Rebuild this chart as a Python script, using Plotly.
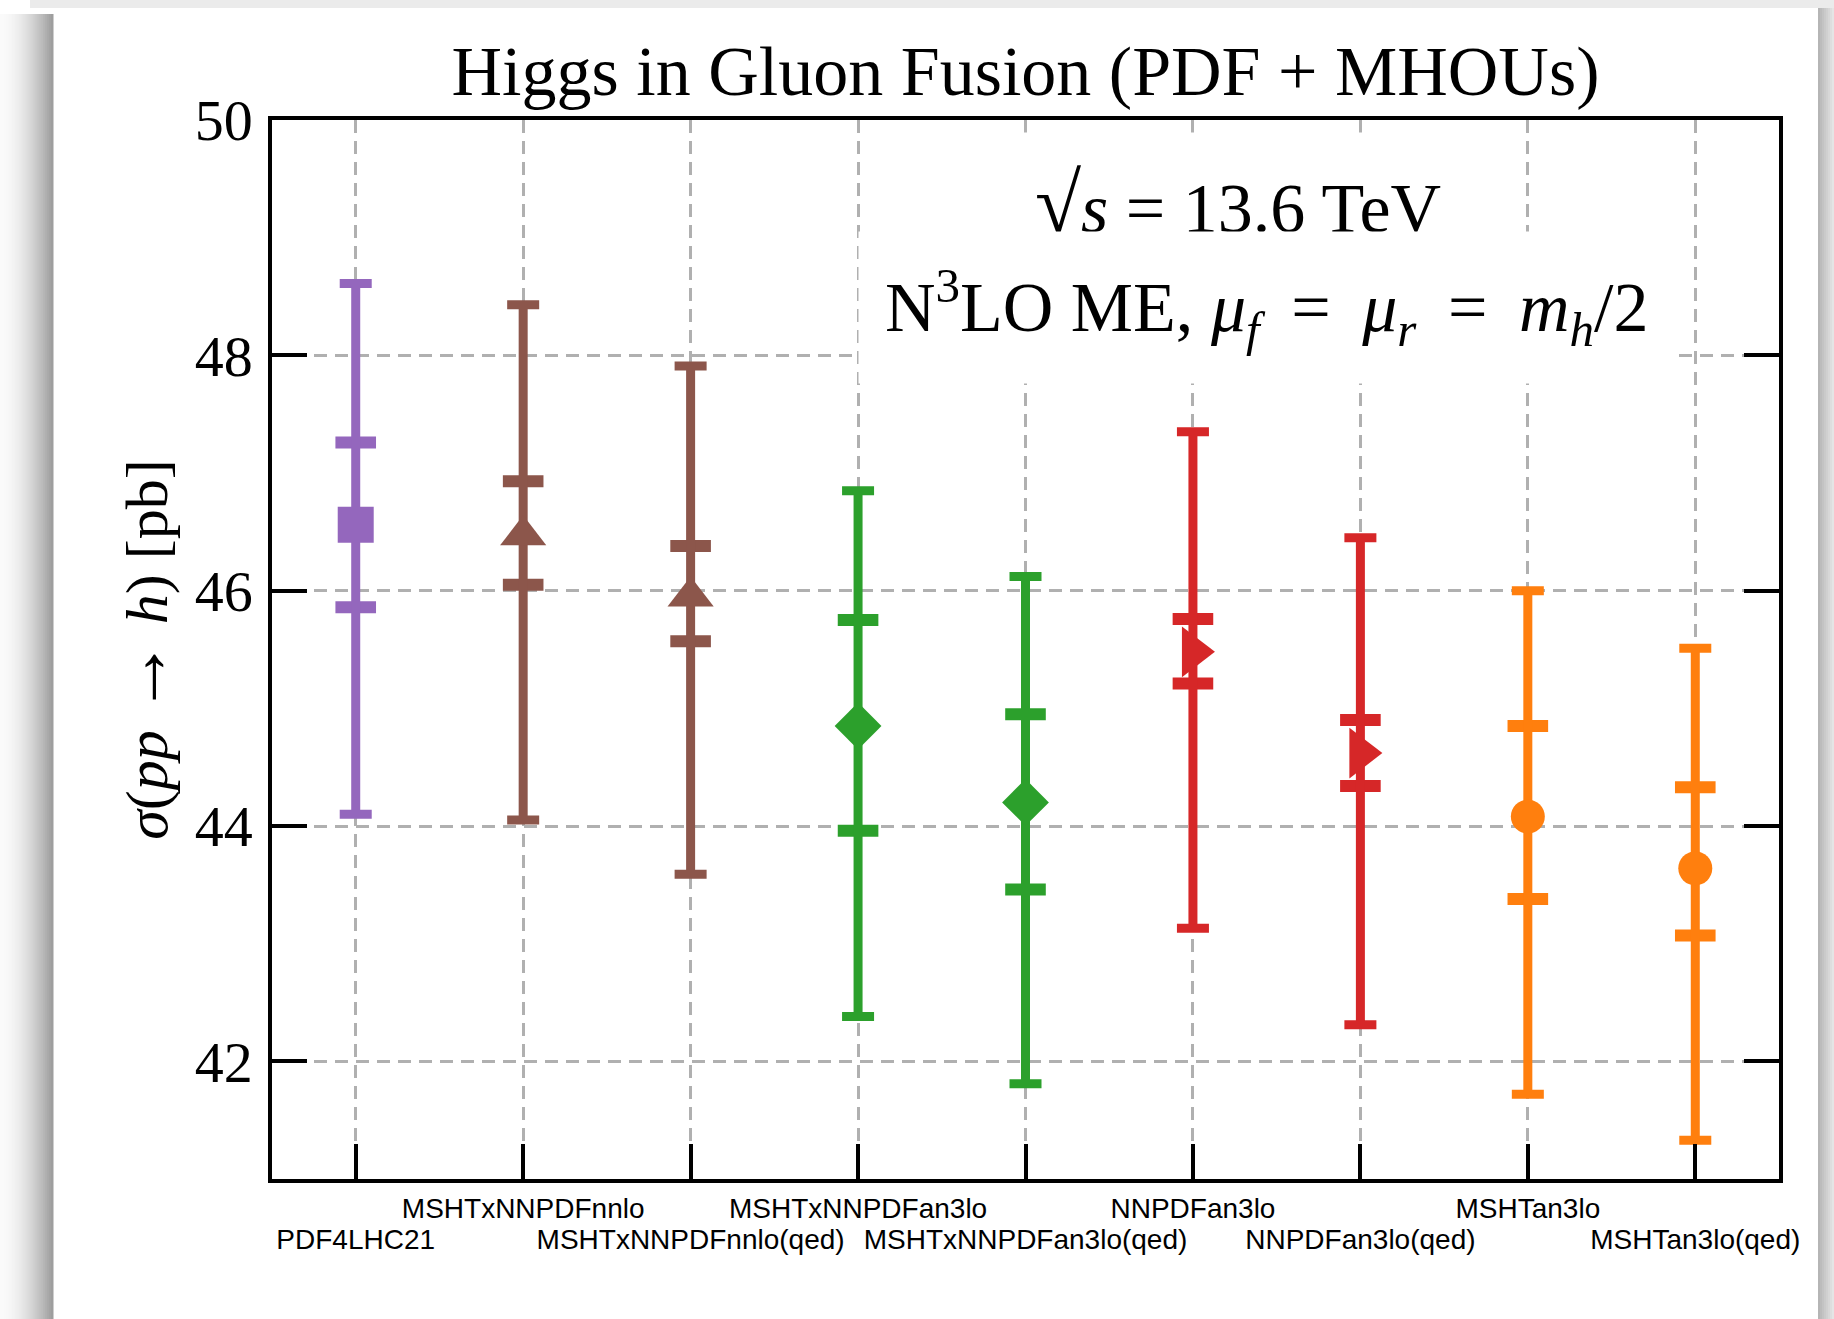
import plotly.graph_objects as go

# ---------------- data ----------------
labels = ["PDF4LHC21", "MSHTxNNPDFnnlo", "MSHTxNNPDFnnlo(qed)", "MSHTxNNPDFan3lo",
          "MSHTxNNPDFan3lo(qed)", "NNPDFan3lo", "NNPDFan3lo(qed)", "MSHTan3lo", "MSHTan3lo(qed)"]
central  = [46.56, 46.47, 45.95, 44.85, 44.20, 45.48, 44.62, 44.08, 43.64]
outer_hi = [48.61, 48.43, 47.91, 46.85, 46.12, 47.35, 46.45, 46.00, 45.51]
outer_lo = [44.10, 44.05, 43.59, 42.38, 41.81, 43.13, 42.31, 41.72, 41.33]
inner_hi = [47.26, 46.93, 46.38, 45.75, 44.95, 45.76, 44.90, 44.85, 44.33]
inner_lo = [45.86, 46.05, 45.57, 43.96, 43.46, 45.21, 44.34, 43.38, 43.07]
colors   = ["#9467bd", "#8c564b", "#8c564b", "#2ca02c", "#2ca02c",
            "#d62728", "#d62728", "#ff7f0e", "#ff7f0e"]
symbols  = ["square", "triangle-up", "triangle-up", "diamond", "diamond",
            "triangle-right", "triangle-right", "circle", "circle"]
msizes   = [36, 40, 40, 36, 36, 44, 44, 34, 34]
yticks   = [42, 44, 46, 48, 50]

positions = list(range(len(labels)))
upper_pos = [p for p in positions if p % 2 == 1]
lower_pos = [p for p in positions if p % 2 == 0]

# ---------------- geometry ----------------
W, H = 1834, 1319
L, R, T, B = 272, 55, 120, 140
PW, PH = W - L - R, H - T - B


def px(x):
    return (x - L) / PW


def py(y):
    return (H - B - y) / PH


fig = go.Figure()

for i in positions:
    # inner (thick) caps
    fig.add_trace(go.Scatter(
        x=[i, i], y=[inner_lo[i], inner_hi[i]], mode="markers",
        marker=dict(symbol="line-ew", size=29, color=colors[i],
                    line=dict(width=12, color=colors[i])),
        showlegend=False, hoverinfo="skip"))
    # outer error bar + central marker
    fig.add_trace(go.Scatter(
        x=[i], y=[central[i]], mode="markers",
        marker=dict(symbol=symbols[i], size=msizes[i], color=colors[i], line=dict(width=0)),
        error_y=dict(type="data", symmetric=False,
                     array=[outer_hi[i] - central[i]],
                     arrayminus=[central[i] - outer_lo[i]],
                     color=colors[i], thickness=9, width=16),
        showlegend=False, name=labels[i]))

# carrier traces for the two label rows (staggered category labels)
for ax in ("x2", "x3"):
    fig.add_trace(go.Scatter(x=[positions[0], positions[-1]], y=[None, None], xaxis=ax,
                             mode="markers", showlegend=False, hoverinfo="skip"))

serif = "Liberation Serif"

# shadow / frame shapes
shapes = []
shapes.append(dict(type="rect", xref="paper", yref="paper",
                   x0=px(30), x1=px(W), y0=py(0), y1=py(8),
                   fillcolor="#ebebeb", line_width=0, layer="below"))
n = 26
for k in range(n):
    x0 = 53 * k / n
    x1 = 53 * (k + 1) / n + 0.5
    t = (k + 0.5) / n
    g = int(251 - 96 * t ** 1.8)
    shapes.append(dict(type="rect", xref="paper", yref="paper",
                       x0=px(x0), x1=px(x1), y0=py(14), y1=py(H),
                       fillcolor=f"rgb({g},{g},{g})", line_width=0, layer="below"))
m = 8
for k in range(m):
    x0 = 1818 + 16 * k / m
    x1 = 1818 + 16 * (k + 1) / m + 0.5
    t = (k + 0.5) / m
    g = int(178 + 55 * t)
    shapes.append(dict(type="rect", xref="paper", yref="paper",
                       x0=px(x0), x1=px(x1), y0=py(8), y1=py(H),
                       fillcolor=f"rgb({g},{g},{g})", line_width=0, layer="below"))

grid = dict(showgrid=True, gridcolor="#b0b0b0", gridwidth=2.8, griddash="13px,8px")
sansfont = dict(family="Liberation Sans", size=28, color="black")
label_axis = dict(range=[-0.5, 8.5], overlaying="x", anchor="y", side="bottom",
                  tickangle=0, tickfont=sansfont, ticks="",
                  showline=False, showgrid=False, zeroline=False)

fig.update_layout(
    width=W, height=H,
    margin=dict(l=L, r=R, t=T, b=B, autoexpand=False),
    paper_bgcolor="white", plot_bgcolor="white",
    title=dict(text="Higgs in Gluon Fusion (PDF + MHOUs)",
               font=dict(family=serif, size=70, color="black"),
               x=(L + PW / 2) / W, xanchor="center",
               y=1 - 70 / H, yanchor="middle", yref="container"),
    xaxis=dict(range=[-0.5, 8.5], tickvals=positions, showticklabels=False,
               ticks="inside", ticklen=35, tickwidth=3.5, tickcolor="black",
               showline=True, linewidth=3.5, linecolor="black", mirror=True,
               zeroline=False, **grid),
    xaxis2=dict(tickvals=lower_pos, ticktext=[labels[p] for p in lower_pos],
                ticklabelstandoff=41, **label_axis),
    xaxis3=dict(tickvals=upper_pos, ticktext=[labels[p] for p in upper_pos],
                ticklabelstandoff=10, **label_axis),
    yaxis=dict(range=[41, 50], tickvals=yticks, ticktext=[str(v) for v in yticks],
               tickfont=dict(family=serif, size=58, color="black"),
               ticks="inside", ticklen=35, tickwidth=3.5, tickcolor="black",
               showline=True, linewidth=3.5, linecolor="black", mirror="ticks",
               zeroline=False, ticklabelstandoff=4,
               title=dict(text="<i>σ</i>(<i>pp</i> <span style='font-size:76px'>→</span> <i>h</i>) [pb]",
                          font=dict(family=serif, size=60, color="black"), standoff=9),
               **grid),
    shapes=shapes,
    annotations=[
        dict(text="<span style='font-size:84px'>√</span><i>s</i> = 13.6 TeV",
             xref="paper", yref="paper",
             x=px(1238), y=py(204), xanchor="center", yanchor="middle",
             showarrow=False, bgcolor="white", borderpad=24,
             font=dict(family=serif, size=70, color="black")),
        dict(text="N<sup>3</sup>LO ME, <i>μ</i><sub><i>f</i></sub> \u2009=\u2009 <i>μ</i><sub><i>r</i></sub>"
                  " \u2009=\u2009 <i>m</i><sub><i>h</i></sub>/2",
             xref="paper", yref="paper",
             x=px(1266), y=py(308), xanchor="center", yanchor="middle",
             showarrow=False, bgcolor="white", borderpad=26,
             font=dict(family=serif, size=70, color="black")),
    ],
)

fig.write_html("out.html", config={"displayModeBar": False},
               post_script="document.body.style.margin='0px';document.body.style.padding='0px';")
